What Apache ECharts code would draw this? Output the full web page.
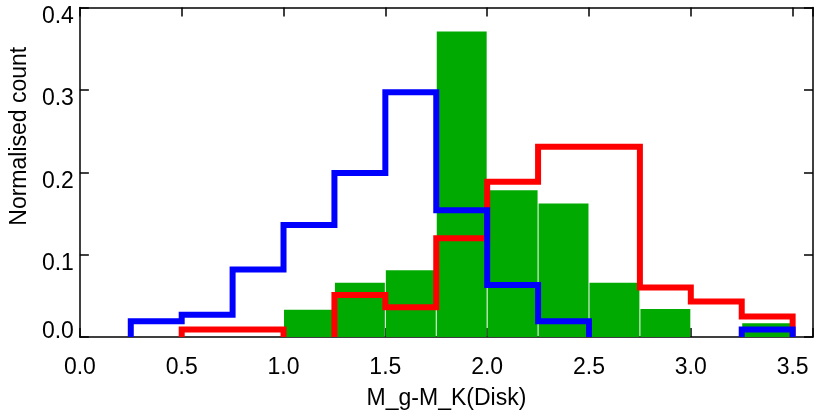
<!DOCTYPE html>
<html><head><meta charset="utf-8">
<script src="https://cdn.jsdelivr.net/npm/echarts@6/dist/echarts.min.js"></script>
<style>html,body{margin:0;padding:0;background:#fff}#c{width:830px;height:415px}</style>
</head><body><div id="c"></div>
<script>
// Histogram bin edges (13 bins of width 0.25)
const binEdges = [0.25, 0.5, 0.75, 1.0, 1.25, 1.5, 1.75, 2.0, 2.25, 2.5, 2.75, 3.0, 3.25, 3.5];
// Normalised counts per bin
const blueCounts  = [0.019, 0.027, 0.082, 0.136, 0.199, 0.297, 0.154, 0.063, 0.019, 0, 0, 0, 0.009];
const redCounts   = [0, 0.009, 0.009, 0, 0.051, 0.036, 0.120, 0.1885, 0.231, 0.231, 0.060, 0.043, 0.025];
const greenCounts = [0, 0, 0, 0.033, 0.066, 0.081, 0.371, 0.178, 0.162, 0.066, 0.034, 0, 0.0166];
const xTickLabels = ['0.0', '0.5', '1.0', '1.5', '2.0', '2.5', '3.0', '3.5'];
const yTickLabels = ['0.0', '0.1', '0.2', '0.3', '0.4'];
const xTitle = 'M_g-M_K(Disk)';
const yTitle = 'Normalised count';

const FONT = 'Liberation Sans';

function outlineSegments(counts) {
  const segs = [];
  let cur = null;
  for (let i = 0; i < counts.length; i++) {
    if (counts[i] > 0) {
      if (!cur) cur = [[binEdges[i], 0]];
      cur.push([binEdges[i], counts[i]], [binEdges[i + 1], counts[i]]);
    } else if (cur) {
      cur.push([binEdges[i], 0]);
      segs.push(cur);
      cur = null;
    }
  }
  if (cur) { cur.push([binEdges[counts.length], 0]); segs.push(cur); }
  return segs;
}

function lineSeries(counts, color, z) {
  return outlineSegments(counts).map(seg => ({
    type: 'line', data: seg, symbol: 'none', showSymbol: false, z: z,
    xAxisIndex: 0, yAxisIndex: 0, clip: true, silent: true,
    lineStyle: { color: color, width: 6, join: 'miter', cap: 'butt' }
  }));
}

const barData = [];
greenCounts.forEach((v, i) => { if (v > 0) barData.push([binEdges[i], binEdges[i + 1], v]); });

function xLabel(v) {
  const k = Math.round(v / 0.5);
  if (Math.abs(v - k * 0.5) < 1e-6 && k >= 0 && k < xTickLabels.length) return xTickLabels[k];
  return '';
}
function yLabel(v) {
  const k = Math.round(v / 0.1);
  if (Math.abs(v - k * 0.1) < 1e-6 && k > 0 && k < yTickLabels.length) return yTickLabels[k];
  return '';
}

const axisLineStyle = { color: '#000', width: 1.5 };
const tickStyle = { show: true, inside: true, length: 9, lineStyle: { color: '#000', width: 1.5 } };

const chart = echarts.init(document.getElementById('c'), null, { renderer: 'canvas' });
chart.setOption({
  animation: false,
  backgroundColor: '#fff',
  textStyle: { fontFamily: FONT },
  grid: { left: 76, top: 7.5, right: 17, bottom: 77.3, containLabel: false },
  xAxis: [
    {
      type: 'value', position: 'bottom', min: 0, max: 3.6, interval: 0.5,
      axisLine: { show: true, onZero: false, lineStyle: axisLineStyle },
      axisTick: tickStyle, splitLine: { show: false }, minorTick: { show: false },
      axisLabel: { show: true, formatter: xLabel, fontSize: 23, color: '#000', fontFamily: FONT, margin: 19, showMaxLabel: true },
      name: xTitle, nameLocation: 'middle', nameGap: 50,
      nameTextStyle: { fontSize: 23, color: '#000', fontFamily: FONT }
    },
    {
      type: 'value', position: 'top', min: 0, max: 3.6, interval: 0.5,
      axisLine: { show: true, onZero: false, lineStyle: axisLineStyle },
      axisTick: tickStyle, splitLine: { show: false }, axisLabel: { show: false }
    }
  ],
  yAxis: [
    {
      type: 'value', position: 'left', min: 0, max: 0.4, interval: 0.1,
      axisLine: { show: true, onZero: false, lineStyle: axisLineStyle },
      axisTick: tickStyle, splitLine: { show: false },
      axisLabel: { show: true, formatter: yLabel, fontSize: 23, color: '#000', fontFamily: FONT, margin: 6, verticalAlign: 'top', lineHeight: 18 },
      name: yTitle, nameLocation: 'middle', nameGap: 48, nameRotate: 90,
      nameTextStyle: { fontSize: 23, color: '#000', fontFamily: FONT, padding: [0, 0, 0, 72] }
    },
    {
      type: 'value', position: 'left', min: 0, max: 0.4, interval: 0.1,
      axisLine: { show: false }, axisTick: { show: false }, splitLine: { show: false },
      axisLabel: { show: true, formatter: v => (Math.abs(v) < 1e-9 ? yTickLabels[0] : ''), fontSize: 23, color: '#000', fontFamily: FONT, margin: 6, verticalAlign: 'bottom', lineHeight: 10 }
    },
    {
      type: 'value', position: 'right', min: 0, max: 0.4, interval: 0.1,
      axisLine: { show: true, onZero: false, lineStyle: axisLineStyle },
      axisTick: tickStyle, splitLine: { show: false }, axisLabel: { show: false }
    }
  ],
  series: [
    {
      type: 'custom', xAxisIndex: 0, yAxisIndex: 0, z: 1, silent: true,
      data: barData,
      encode: { x: [0, 1], y: 2 },
      renderItem: function (params, api) {
        const p0 = api.coord([api.value(0), api.value(2)]);
        const p1 = api.coord([api.value(1), 0]);
        return {
          type: 'rect',
          shape: { x: p0[0] + 0.5, y: p0[1], width: p1[0] - p0[0] - 1, height: p1[1] - p0[1] },
          style: { fill: '#00aa00' }
        };
      }
    }
  ].concat(lineSeries(redCounts, '#ff0000', 3)).concat(lineSeries(blueCounts, '#0000ff', 4))
});
</script>
</body></html>
